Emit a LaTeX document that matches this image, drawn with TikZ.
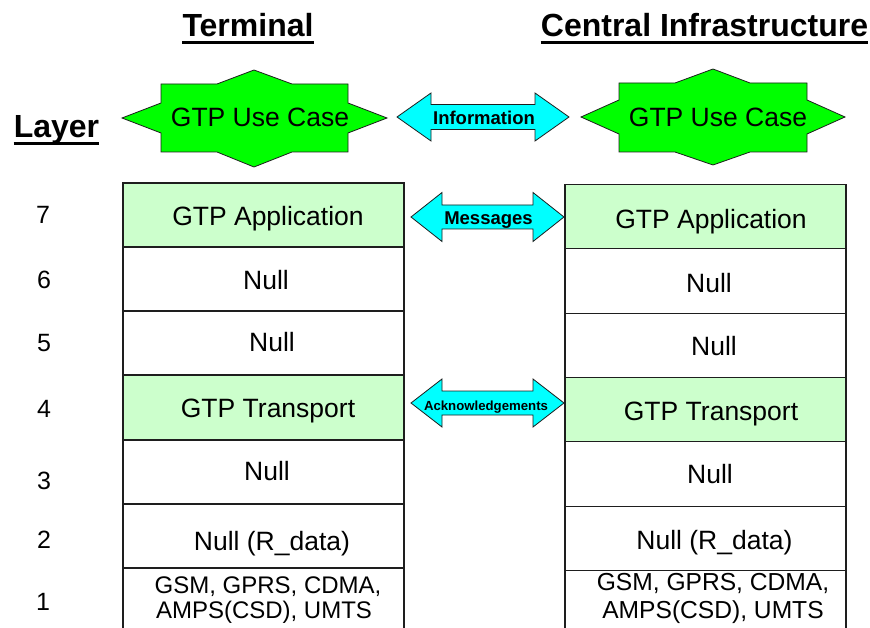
\documentclass[tikz,border=0pt]{standalone}
\usepackage{fontspec}
\setmainfont{Liberation Sans}
\definecolor{stargreen}{RGB}{0,255,0}
\definecolor{rowgreen}{RGB}{204,255,204}
\definecolor{arrowcyan}{RGB}{0,255,255}
\definecolor{edge}{RGB}{30,30,30}

% two-headed block arrow: x1, x2, y centre, half head width, half shaft width, head length
\newcommand\twoway[6]{%
  \filldraw[arrowshape] (#1,#3) -- ({#1+#6},{#3-#4}) -- ({#1+#6},{#3-#5})
    -- ({#2-#6},{#3-#5}) -- ({#2-#6},{#3-#4}) -- (#2,#3)
    -- ({#2-#6},{#3+#4}) -- ({#2-#6},{#3+#5}) -- ({#1+#6},{#3+#5})
    -- ({#1+#6},{#3+#4}) -- cycle;}

\tikzset{
  header/.style={font=\fontsize{32}{36}\selectfont\bfseries, inner sep=0pt, anchor=base},
  body/.style={font=\fontsize{26.5}{30}\selectfont, inner sep=0pt, anchor=base},
  linkbody/.style={font=\fontsize{24}{28}\selectfont, inner sep=0pt, anchor=base},
  layernum/.style={font=\fontsize{25}{30}\selectfont, inner sep=0pt, anchor=base},
  msg/.style={font=\fontsize{18.5}{22}\selectfont\bfseries, inner sep=0pt, anchor=base},
  smallmsg/.style={font=\fontsize{13.2}{16}\selectfont\bfseries, inner sep=0pt, anchor=base},
  starshape/.style={fill=stargreen, draw=edge, line width=0.8pt, line join=miter},
  arrowshape/.style={fill=arrowcyan, draw=edge, line width=0.8pt, line join=miter},
  layerrow/.style={draw=edge, line width=1.2pt, minimum width=281pt, minimum height=64pt, inner sep=0pt, fill=white},
  layerrowR/.style={layerrow, minimum width=281pt, minimum height=64.3pt},
  greenrow/.style={fill=rowgreen},
}

\begin{document}
\begin{tikzpicture}[x=1pt, y=-1pt]
\useasboundingbox (0,0) rectangle (870,628);
\clip (0,0) rectangle (870,628);

% column headings
\node[header] (hterm) at (248,37) {Terminal};
\node[header] (hcent) at (704.5,37) {Central Infrastructure};
\node[header] (hlayer) at (56.5,138) {Layer};
\foreach \h in {hterm,hcent,hlayer}
  \draw[line width=3pt] ([yshift=-6pt]\h.base west) -- ([yshift=-6pt]\h.base east);

% use-case stars
\draw[starshape] (161,84) -- (217,84) -- (254,70) -- (292,84) -- (348,84) -- (348,103)
  -- (387,118) -- (348,133) -- (348,152) -- (292,152) -- (254,167) -- (217,152)
  -- (161,152) -- (161,133) -- (122,118) -- (161,103) -- cycle;
\node[body] (ucT) at (260,127) {GTP Use Case};

\draw[starshape] (619,83) -- (675,83) -- (713,69) -- (750,83) -- (807,83) -- (807,100)
  -- (845,117) -- (807,134) -- (807,152) -- (750,152) -- (713,165) -- (675,152)
  -- (619,152) -- (619,134) -- (581,117) -- (619,100) -- cycle;
\node[body] (ucC) at (718,127) {GTP Use Case};

% terminal stack
\node[layerrow, greenrow] (t7) at (263.5,215) {};
\node[layerrow] (t6) at (263.5,279) {};
\node[layerrow] (t5) at (263.5,343) {};
\node[layerrow, greenrow] (t4) at (263.5,407.5) {};
\node[layerrow] (t3) at (263.5,472) {};
\node[layerrow] (t2) at (263.5,536) {};
\node[layerrow] (t1) at (263.5,600) {};

\node[body] at (268,226) {GTP Application};
\node[body] at (266,290) {Null};
\node[body] at (272,352) {Null};
\node[body] at (268,417) {GTP Transport};
\node[body] at (267,480) {Null};
\node[body] at (272,550) {Null (R\_data)};
\node[linkbody] at (268,593) {GSM, GPRS, CDMA,};
\node[linkbody] at (264,618) {AMPS(CSD), UMTS};

% central stack
\node[layerrowR, greenrow] (c7) at (705.5,217) {};
\node[layerrowR] (c6) at (705.5,281) {};
\node[layerrowR] (c5) at (705.5,345.5) {};
\node[layerrowR, greenrow] (c4) at (705.5,410) {};
\node[layerrowR] (c3) at (705.5,474) {};
\node[layerrowR] (c2) at (705.5,538.5) {};
\node[layerrowR] (c1) at (705.5,603) {};

\node[body] at (711,229) {GTP Application};
\node[body] at (709,293) {Null};
\node[body] at (714,355) {Null};
\node[body] at (711,420) {GTP Transport};
\node[body] at (710,483) {Null};
\node[body] at (714.5,549) {Null (R\_data)};
\node[linkbody, font=\fontsize{24.6}{28}\selectfont] at (713,590) {GSM, GPRS, CDMA,};
\node[linkbody, font=\fontsize{24.6}{28}\selectfont] at (713,618) {AMPS(CSD), UMTS};

% layer numbers
\node[layernum] at (43,224) {7};
\node[layernum] at (44,289) {6};
\node[layernum] at (44,352) {5};
\node[layernum] at (44,417) {4};
\node[layernum] at (44,489) {3};
\node[layernum] at (44,548) {2};
\node[layernum] at (43,610) {1};

% peer exchanges
\twoway{397}{569}{117}{24}{12.5}{34}
\node[msg] (info) at (484,125) {Information};
\twoway{411}{564}{217}{24.5}{12}{31}
\node[msg] (msgs) at (488.5,225) {Messages};
\twoway{411}{564}{403}{24}{12}{31}
\node[smallmsg] (ack) at (486,410) {Acknowledgements};
\end{tikzpicture}
\end{document}
